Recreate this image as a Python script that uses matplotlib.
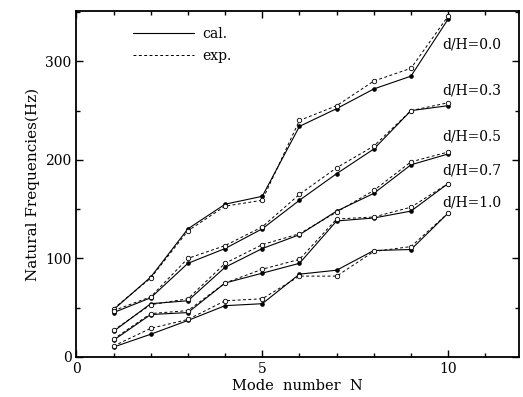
import numpy as np
import matplotlib.pyplot as plt
from matplotlib.ticker import MultipleLocator

# mode numbers and natural frequencies (Hz)
modes = np.arange(1, 11)
ratios = ['0.0', '0.3', '0.5', '0.7', '1.0']

cal_00 = [48, 81, 130, 155, 163, 234, 252, 272, 285, 343]
exp_00 = [49, 80, 128, 153, 159, 240, 255, 280, 293, 346]
cal_03 = [45, 60, 95, 110, 130, 159, 186, 211, 250, 255]
exp_03 = [47, 61, 100, 113, 132, 165, 192, 214, 250, 258]
cal_05 = [26, 54, 57, 91, 110, 124, 148, 166, 195, 206]
exp_05 = [27, 53, 59, 95, 114, 125, 147, 169, 198, 208]
cal_07 = [17, 43, 45, 75, 85, 95, 138, 141, 148, 176]
exp_07 = [18, 44, 47, 75, 89, 99, 140, 142, 152, 176]
cal_10 = [10, 23, 37, 52, 54, 84, 88, 108, 109, 146]
exp_10 = [11, 29, 38, 57, 59, 82, 82, 107, 112, 146]

cal_all = [cal_00, cal_03, cal_05, cal_07, cal_10]
exp_all = [exp_00, exp_03, exp_05, exp_07, exp_10]

# where the d/H labels sit (data coords)
label_x = 9.85
label_y = [317, 270, 224, 189, 157]

plt.rcParams['font.family'] = 'DejaVu Serif'

fig = plt.figure(figsize=(5.23, 3.97), dpi=100)
ax = fig.add_axes([0.146, 0.101, 0.846, 0.871])

for ii in range(len(ratios)):
    ax.plot(modes, cal_all[ii], '-', color='black', lw=0.8,
            marker='o', ms=2.3, mfc='black', mec='black',
            label='cal.' if ii == 0 else None)
    ax.plot(modes, exp_all[ii], '--', color='black', lw=0.7, dashes=(3, 2.5),
            marker='o', ms=3.2, mfc='white', mec='black', mew=0.6,
            label='exp.' if ii == 0 else None)
    ax.text(label_x, label_y[ii], 'd/H=%s' % ratios[ii], fontsize=10,
            va='center', ha='left')

ax.set_xlim(0, 11.9)
ax.set_ylim(0, 351)
ax.xaxis.set_major_locator(MultipleLocator(5))
ax.xaxis.set_minor_locator(MultipleLocator(1))
ax.yaxis.set_major_locator(MultipleLocator(100))
ax.yaxis.set_minor_locator(MultipleLocator(50))
ax.tick_params(which='both', direction='in', top=True, right=True, labelsize=10,
               width=1)
ax.tick_params(which='major', length=5)
ax.tick_params(which='minor', length=3)
for sp in ax.spines.values():
    sp.set_linewidth(1.3)

ax.set_xlabel('Mode  number  N', fontsize=10.5, labelpad=2)
ax.set_ylabel('Natural Frequencies(Hz)', fontsize=11, labelpad=4)

leg = ax.legend(loc='upper left', bbox_to_anchor=(0.113, 0.975), frameon=False,
                borderpad=0, handlelength=4.4, handletextpad=0.6,
                labelspacing=0.6, fontsize=10)
for line in leg.get_lines():
    line.set_marker('')

fig.savefig('out.png', dpi=100)
